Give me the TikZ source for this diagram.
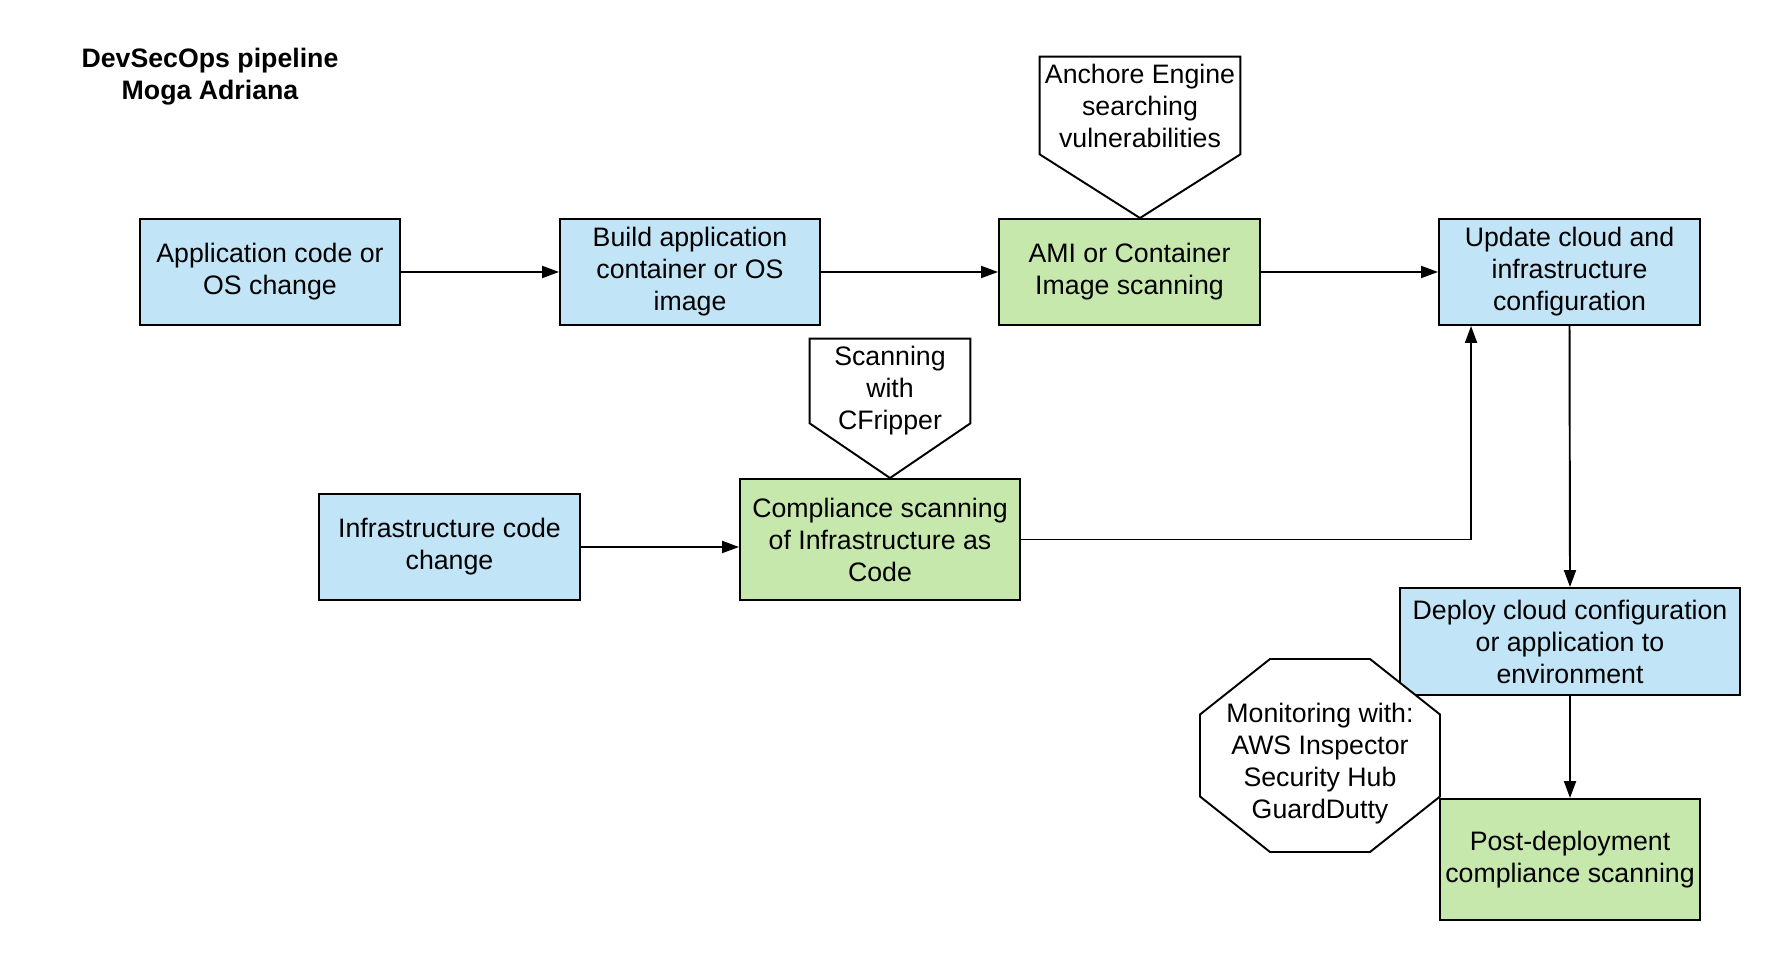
\documentclass[tikz,border=0pt]{standalone}
\usepackage{fontspec}
\setmainfont{Liberation Sans}
\usetikzlibrary{arrows.meta}
\definecolor{stepblue}{RGB}{193,228,247}
\definecolor{scangreen}{RGB}{199,232,172}
\begin{document}
\begin{tikzpicture}[
  every node/.style={font=\fontsize{15.2pt}{18.2pt}\selectfont, align=center, inner sep=0pt},
  box/.style={draw, line width=1.1pt, minimum height=2.12cm},
  bluebox/.style={box, fill=stepblue},
  greenbox/.style={box, fill=scangreen},
  arr/.style={line width=1.1pt, -{Triangle[length=0.34cm,width=0.24cm]}},
  outline/.style={draw, line width=1.1pt, line join=miter}]
  \useasboundingbox (0,0) rectangle (35.6,19.2);
  % Title
  \node[font=\fontsize{15.2pt}{18.2pt}\selectfont\bfseries] (title) at (4.2,17.66) {DevSecOps pipeline\\Moga Adriana};
  % Top row
  \node[bluebox, minimum width=5.2cm] (app) at (5.4,13.76) {Application code or\\OS change};
  \node[bluebox, minimum width=5.2cm] (build) at (13.8,13.76) {Build application\\container or OS\\image};
  \node[greenbox, minimum width=5.22cm] (ami) at (22.59,13.76) {AMI or Container\\Image scanning};
  \node[bluebox, minimum width=5.22cm] (update) at (31.39,13.76) {Update cloud and\\infrastructure\\configuration};
  % Anchore callout
  \node[minimum width=4.0cm, minimum height=1.94cm] (anchore) at (22.8,17.09) {Anchore Engine\\searching\\vulnerabilities};
  \draw[outline] (anchore.north west) -- (anchore.north east) -- (anchore.south east)
    -- (anchore.south |- ami.north) -- (anchore.south west) -- cycle;
  % Infrastructure row
  \node[bluebox, minimum width=5.22cm] (infra) at (8.99,8.26) {Infrastructure code\\change};
  \node[greenbox, minimum width=5.6cm, minimum height=2.42cm] (compl) at (17.6,8.41) {Compliance scanning\\of Infrastructure as\\Code};
  % CFripper callout
  \node[minimum width=3.2cm, minimum height=1.68cm] (cfripper) at (17.8,11.58) {};
  \node (cftext) at (17.8,11.38) {Scanning\\with\\CFripper};
  \draw[outline] (cfripper.north west) -- (cfripper.north east) -- (cfripper.south east)
    -- (cfripper.south |- compl.north) -- (cfripper.south west) -- cycle;
  % Deployment column
  \node[bluebox, minimum width=6.8cm, minimum height=2.14cm] (deploy) at (31.4,6.37) {Deploy cloud configuration\\or application to\\environment};
  \node[greenbox, minimum width=5.2cm, minimum height=2.42cm] (post) at (31.4,2.01) {Post-deployment\\compliance scanning};
  % Monitoring octagon
  \draw[outline, fill=white, shift={(26.4,4.09)}] (-1,1.93) -- (1,1.93) -- (2.4,0.82) -- (2.4,-0.82)
    -- (1,-1.93) -- (-1,-1.93) -- (-2.4,-0.82) -- (-2.4,0.82) -- cycle;
  \node (monitor) at (26.4,3.93) {Monitoring with:\\AWS Inspector\\Security Hub\\GuardDutty};
  % Arrows
  \draw[arr] (app.east) -- (build.west);
  \draw[arr] (build.east) -- (ami.west);
  \draw[arr] (ami.east) -- (update.west);
  \draw[arr] (infra.east) -- (infra.east -| compl.west);
  \draw[arr] (compl.east) -| ([xshift=0.66cm]update.south west);
  \draw[arr] (update.south) -- (deploy.north);
  \draw[arr] (deploy.south) -- (post.north);
\end{tikzpicture}
\end{document}
